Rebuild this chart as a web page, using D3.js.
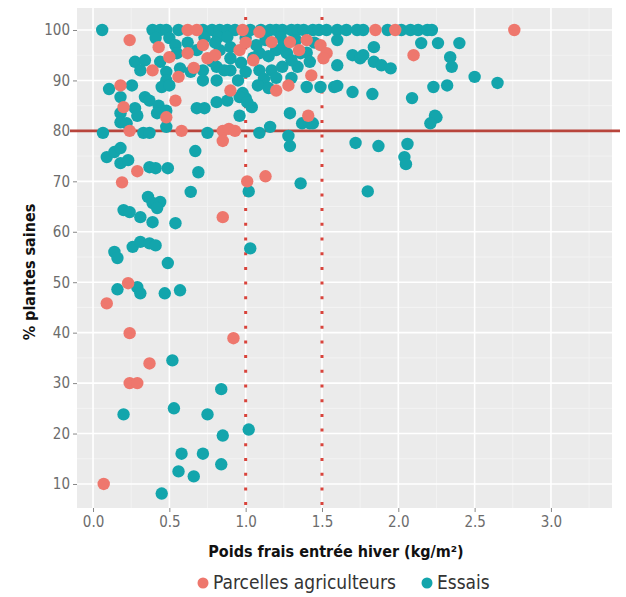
<!DOCTYPE html>
<html>
<head>
<meta charset="utf-8">
<script src="https://cdn.jsdelivr.net/npm/d3@7"></script>
<style>
  body{margin:0;background:#fff;}
  svg{display:block;}
</style>
</head>
<body>
<div id="chart"></div>
<script>
// valeurs : [poids frais kg/m2, % plantes saines]
var parcelles=[
  [0.24,98],[0.43,96.6],[0.50,94.6],[0.56,90.7],[0.62,95.4],[0.62,100],[0.68,100],[0.75,94.4],
  [0.39,92],[0.18,89],[0.54,86],[0.20,84.7],[0.48,82.7],[0.24,80],[0.58,80],[0.85,80],
  [0.89,80.4],[0.93,80],[0.85,78],[0.98,100],[1.09,99.6],[1.29,97.6],[1.17,97.6],[1.40,98],
  [1.49,97],[1.53,95.4],[1.51,94.4],[0.96,96],[0.90,88],[1.20,88],[1.28,89],[1.43,91],
  [1.41,83],[1.85,100],[1.98,100],[2.76,100],[2.10,95],[0.29,72],[0.19,69.8],[1.01,70],
  [1.13,71],[0.85,62.9],[0.23,49.8],[0.09,45.8],[0.24,39.9],[0.92,38.9],[0.37,33.9],
  [0.24,30],[0.29,30],[0.07,10],[0.72,97],[0.80,95],[1.05,94],[1.35,96],[1.0,97.5],[0.66,92.5]
];
var essais=[
  [0.06,100],[0.39,100],[0.44,100],[0.48,100],[0.56,100],[0.72,100],[0.78,100],[0.83,100],[0.88,100],
  [0.93,100],[1.03,100],[1.10,100],[1.16,100],[1.20,100],[1.24,100],[1.30,100],[1.34,100],[1.38,100],
  [1.44,100],[1.48,100],[1.53,100],[1.60,100],[1.66,100],[1.73,100],[1.77,100],[1.93,100],[2.02,100],
  [2.08,100],[2.13,100],[2.19,100],[2.22,100],
  [0.41,98.4],[0.50,98.4],[0.82,98.6],[1.60,98],[0.54,97],[1.84,96.6],[2.15,97.4],[2.26,97.4],
  [2.40,97.4],[0.68,96],[0.83,96],[0.90,96.6],[1.09,95.4],[1.20,96],[1.27,95.4],[1.36,95.4],
  [0.55,95.4],[0.73,98.5],[0.88,98.6],[1.00,98.4],[1.13,98],[1.23,98.5],[1.33,98],[1.45,97.5],
  [0.62,97.5],[0.80,97.5],[1.07,97],[1.25,97],[1.40,95.5],
  [0.275,93.7],[0.34,94],[0.44,93.7],[0.90,94.4],[1.60,93],[1.70,95],[1.75,94.4],[1.77,95],
  [1.84,93.7],[1.89,93],[1.95,92.4],[2.34,94.6],[2.35,92.7],[0.31,92],[0.48,91.7],[0.57,92.4],
  [0.64,91.7],[0.72,92],[0.81,92.7],[0.90,92],[1.0,91.7],[1.09,92],[1.17,92],[1.24,92.7],
  [1.34,92.7],[1.42,93.7],[1.05,94.5],[1.15,94.8],[1.30,94],[0.97,93.5],[0.78,93.8],[0.86,92],
  [0.72,90],[0.48,90],[0.81,90],[2.50,90.7],[2.65,89.5],[0.95,90],[1.12,90.3],[1.30,90.5],[1.20,90.5],
  [0.105,88.3],[0.255,89],[0.45,88.7],[0.50,89],[1.08,89],[1.15,88.5],[1.40,88.7],[1.49,88.7],
  [1.58,88.7],[1.70,87.7],[1.83,87.3],[2.32,89],[2.23,88.7],[2.09,86.5],[1.60,88.9],
  [0.98,87.5],[1.0,86.5],[1.04,84.7],
  [0.18,86.7],[0.34,86.7],[0.37,86],[0.81,85.7],[0.88,86],[0.96,86.7],[1.01,85.7],
  [0.43,85],[0.275,84.5],
  [0.18,83.5],[0.29,83],[0.42,83.5],[0.48,84],[0.68,84.5],[0.73,84.5],[0.96,83],[1.29,83.5],
  [2.24,83],[2.25,82.7],
  [0.18,81.7],[0.22,81.5],[0.48,80.8],[1.37,81.5],[1.42,81.5],[1.44,81.5],[2.21,81.5],
  [1.16,80.8],
  [0.065,79.6],[0.33,79.6],[0.37,79.6],[0.75,79.6],[1.09,79.6],[1.28,79],[1.29,77],
  [1.72,77.6],[1.87,77],[2.06,77.4],[2.04,74.8],[2.05,73.4],[0.67,76],[0.09,74.8],[0.14,75.8],
  [0.18,76.6],[0.18,73.6],[0.23,74.2],
  [0.37,72.8],[0.41,72.6],[0.49,72.6],[0.69,71.8],[1.36,69.6],[1.80,68],[0.64,67.9],[1.02,68],
  [0.36,66.9],[0.39,65.7],[0.44,65.9],[0.42,64.7],[0.20,64.3],[0.24,63.9],[0.31,62.9],
  [0.39,61.9],[0.54,61.7],
  [0.26,57],[0.31,58],[0.37,57.7],[0.41,57.3],[0.14,56],[0.16,54.8],[0.49,53.8],[1.03,56.7],
  [0.16,48.6],[0.29,49],[0.31,47.8],[0.47,47.8],[0.57,48.4],
  [0.52,34.5],[0.84,28.8],[0.20,23.8],[0.53,25],[0.75,23.8],[1.02,20.8],[0.85,19.6],
  [0.58,16],[0.72,16],[0.84,13.9],[0.56,12.5],[0.66,11.5],[0.45,8.1]
];
var xTicks=[0,0.5,1,1.5,2,2.5,3];
var yTicks=[10,20,30,40,50,60,70,80,90,100];
var seuilY=80, seuilsX=[1,1.5];
var series=["Parcelles agriculteurs","Essais"];
var couleurs=["#ee776d","#13a5ac"];

dessiner();
function dessiner(){
  var W=626,H=597;
  var panel={left:77,right:612,top:8,bottom:508};

  var svg=d3.select("#chart").append("svg")
    .attr("width",W).attr("height",H);

  var x=d3.scaleLinear().domain([-0.105,3.40]).range([panel.left,panel.right]);
  var y=d3.scaleLinear().domain([5.24,104.36]).range([panel.bottom,panel.top]);

  // fond gris
  svg.append("rect")
    .attr("x",panel.left).attr("y",panel.top)
    .attr("width",panel.right-panel.left).attr("height",panel.bottom-panel.top)
    .style("fill","#ebebeb");

  // grille mineure
  var xMin=d3.range(-0.25,3.5,0.5).filter(v=>x(v)>panel.left&&x(v)<panel.right);
  var yMin=d3.range(5,105,10).filter(v=>y(v)>panel.top&&y(v)<panel.bottom);
  svg.selectAll(".gxm").data(xMin).enter().append("line")
    .attr("x1",d=>x(d)).attr("x2",d=>x(d)).attr("y1",panel.top).attr("y2",panel.bottom)
    .style("stroke","#f5f5f5").style("stroke-width",0.8);
  svg.selectAll(".gym").data(yMin).enter().append("line")
    .attr("y1",d=>y(d)).attr("y2",d=>y(d)).attr("x1",panel.left).attr("x2",panel.right)
    .style("stroke","#f5f5f5").style("stroke-width",0.8);
  // grille majeure
  svg.selectAll(".gx").data(xTicks).enter().append("line")
    .attr("x1",d=>x(d)).attr("x2",d=>x(d)).attr("y1",panel.top).attr("y2",panel.bottom)
    .style("stroke","#fff").style("stroke-width",1.6);
  svg.selectAll(".gy").data(yTicks).enter().append("line")
    .attr("y1",d=>y(d)).attr("y2",d=>y(d)).attr("x1",panel.left).attr("x2",panel.right)
    .style("stroke","#fff").style("stroke-width",1.6);

  // axes
  var axeX=svg.append("g").attr("transform",`translate(0,${panel.bottom})`)
    .call(d3.axisBottom(x).tickValues(xTicks).tickFormat(d3.format(".1f")).tickSize(4).tickPadding(4));
  var axeY=svg.append("g").attr("transform",`translate(${panel.left},0)`)
    .call(d3.axisLeft(y).tickValues(yTicks).tickSize(4).tickPadding(3));
  [axeX,axeY].forEach(function(a){
    a.select(".domain").remove();
    a.selectAll(".tick line").style("stroke","#888");
    a.selectAll("text").style("font-family","'DejaVu Sans Condensed',sans-serif")
      .style("font-size","15px").style("fill","#6c6c6c");
  });

  // seuil 80 %
  svg.append("line")
    .attr("x1",70).attr("x2",620).attr("y1",y(seuilY)).attr("y2",y(seuilY))
    .style("stroke","#b8453c").style("stroke-width",2.6);

  // pointillés 1 et 1.5 kg/m2
  svg.selectAll(".seuil").data(seuilsX).enter().append("line")
    .attr("x1",d=>x(d)).attr("x2",d=>x(d)).attr("y1",panel.top+9).attr("y2",panel.bottom)
    .style("stroke","#d9433b").style("stroke-width",3)
    .style("stroke-dasharray","3 11.7");

  // points
  var r=6.2;
  svg.selectAll(".essais").data(essais).enter().append("circle")
    .attr("class","essais")
    .attr("cx",d=>x(d[0])).attr("cy",d=>y(d[1])).attr("r",r)
    .style("fill",couleurs[1]);
  svg.selectAll(".parcelles").data(parcelles).enter().append("circle")
    .attr("class","parcelles")
    .attr("cx",d=>x(d[0])).attr("cy",d=>y(d[1])).attr("r",r)
    .style("fill",couleurs[0]);

  // titres
  svg.append("text")
    .attr("x",336).attr("y",557)
    .style("text-anchor","middle")
    .style("font-family","'DejaVu Sans Condensed',sans-serif")
    .style("font-weight","bold").style("font-size","16px").style("fill","#111")
    .text("Poids frais entrée hiver (kg/m²)");
  svg.append("text")
    .attr("transform","translate(35,272) rotate(-90)")
    .style("text-anchor","middle")
    .style("font-family","'DejaVu Sans Condensed',sans-serif")
    .style("font-weight","bold").style("font-size","16px").style("fill","#111")
    .text("% plantes saines");

  // légende
  var leg=svg.append("g").attr("transform","translate(203,583)");
  var posLeg=[0,224];
  series.forEach(function(s,i){
    var g=leg.append("g").attr("transform",`translate(${posLeg[i]},0)`);
    g.append("circle").attr("r",5.5).style("fill",couleurs[i]);
    g.append("text").attr("x",10).attr("y",6)
      .style("font-family","'DejaVu Sans Condensed',sans-serif")
      .style("font-size","19px").style("fill","#333")
      .text(s);
  });
}
</script>
</body>
</html>
